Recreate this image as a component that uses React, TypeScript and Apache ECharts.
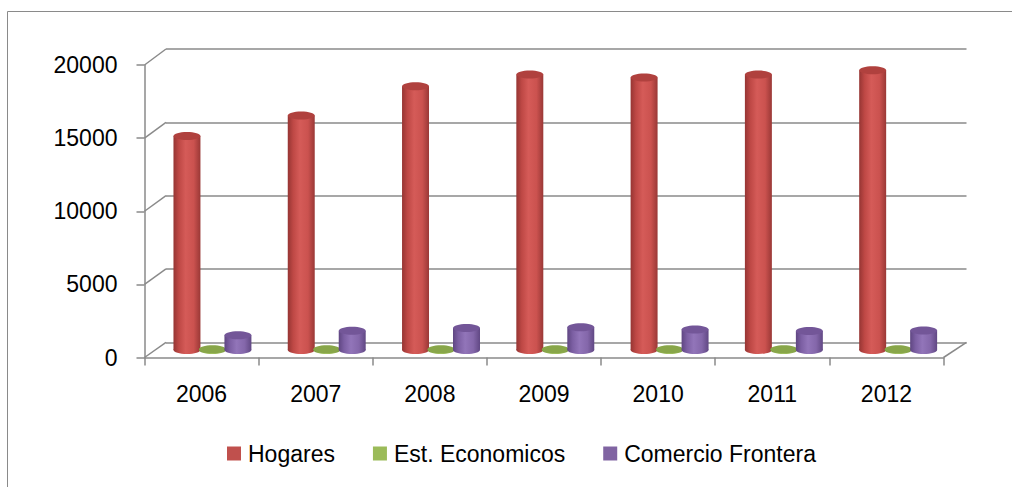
import React, { useEffect, useRef } from "react";
import * as echarts from "echarts";

const YEARS = ["2006", "2007", "2008", "2009", "2010", "2011", "2012"];
const HOGARES = [14600, 16000, 18000, 18800, 18600, 18800, 19100];
const EST_ECONOMICOS = [50, 50, 50, 50, 50, 50, 50];
const COMERCIO_FRONTERA = [1000, 1300, 1500, 1550, 1400, 1290, 1330];
const Y_TICKS = [0, 5000, 10000, 15000, 20000];

const SERIES_NAMES = ["Hogares", "Est. Economicos", "Comercio Frontera"];
const SERIES_COLORS = ["#C0504D", "#9BBB59", "#8064A2"];
const BODY_STOPS = [
  ["#963533", "#BE4845", "#D55B58", "#CB524F", "#9A3836"],
  ["#6E8A38", "#8FAF4E", "#A6C563", "#98B857", "#6F8B39"],
  ["#5F4682", "#7C5FA3", "#9275B9", "#8467AA", "#614884"],
];
const TOP_COLORS = ["#B0413E", "#88A649", "#735698"];

const FONT = "Liberation Sans";
const GRAY = "#8A8A8A";

// layout (pixels)
const BACK = { left: 166, top: 49, width: 800.5, height: 293.3 };
const FRONT = { left: 144.5, top: 65, width: 799, height: 292.5 };
const MID = { left: 155.3, top: 57, width: 800, height: 292.9 };

function makeCylinderSeries(k: number, values: number[]) {
  return {
    type: "custom",
    name: SERIES_NAMES[k],
    xAxisIndex: 2,
    yAxisIndex: 2,
    itemStyle: { color: SERIES_COLORS[k] },
    data: values.map((v, i) => [i, v]),
    encode: { x: 0, y: 1 },
    z: 5 + k,
    renderItem: (params: any, api: any) => {
      const idx = api.value(0);
      const val = api.value(1);
      const base = api.coord([idx, 0]);
      const top = api.coord([idx, val]);
      const band = api.size([1, 0])[0];
      const cx = base[0] + (k - 1) * band * 0.223;
      const w = band * 0.236;
      const rx = w / 2;
      const ry = 4;
      const stops = BODY_STOPS[k];
      const grad = {
        type: "linear",
        x: 0,
        y: 0,
        x2: 1,
        y2: 0,
        colorStops: [
          { offset: 0, color: stops[0] },
          { offset: 0.2, color: stops[1] },
          { offset: 0.45, color: stops[2] },
          { offset: 0.75, color: stops[3] },
          { offset: 1, color: stops[4] },
        ],
      };
      return {
        type: "group",
        children: [
          {
            type: "ellipse",
            shape: { cx, cy: base[1], rx, ry },
            style: { fill: grad },
          },
          {
            type: "rect",
            shape: { x: cx - rx, y: top[1], width: w, height: Math.max(0, base[1] - top[1]) },
            style: { fill: grad },
          },
          {
            type: "ellipse",
            shape: { cx, cy: top[1], rx, ry },
            style: { fill: TOP_COLORS[k] },
          },
        ],
      };
    },
  };
}

export default function App() {
  const ref = useRef<HTMLDivElement>(null);
  useEffect(() => {
    if (!ref.current) return;
    const chart = echarts.init(ref.current, null, { renderer: "svg" });
    const option: any = {
      animation: false,
      backgroundColor: "#ffffff",
      textStyle: { fontFamily: FONT },
      grid: [
        { ...BACK, containLabel: false },
        { ...FRONT, containLabel: false },
        { ...MID, containLabel: false },
      ],
      xAxis: [
        { type: "category", gridIndex: 0, data: YEARS, show: false },
        {
          type: "category",
          gridIndex: 1,
          data: YEARS,
          axisLine: { show: true, lineStyle: { color: GRAY, width: 1.5 } },
          axisTick: { show: true, length: 8, lineStyle: { color: GRAY, width: 1.5 } },
          axisLabel: { color: "#000", fontSize: 23, fontFamily: FONT, margin: 25 },
        },
        { type: "category", gridIndex: 2, data: YEARS, show: false },
      ],
      yAxis: [
        {
          type: "value",
          gridIndex: 0,
          min: 0,
          max: 20000,
          interval: 5000,
          axisLine: { show: false },
          axisTick: { show: false },
          axisLabel: { show: false },
          splitLine: { show: true, lineStyle: { color: GRAY, width: 1.5 } },
        },
        {
          type: "value",
          gridIndex: 1,
          min: 0,
          max: 20000,
          interval: 5000,
          axisLine: { show: true, lineStyle: { color: GRAY, width: 1.5 } },
          axisTick: { show: true, length: 8, lineStyle: { color: GRAY, width: 1.5 } },
          axisLabel: {
            color: "#000",
            fontSize: 23,
            fontFamily: FONT,
            margin: 27,
            formatter: (v: number) => String(v),
          },
          splitLine: { show: false },
        },
        { type: "value", gridIndex: 2, min: 0, max: 20000, interval: 5000, show: false, splitLine: { show: false } },
      ],
      legend: {
        left: 222,
        top: 437,
        icon: "rect",
        itemWidth: 14,
        itemHeight: 14,
        itemGap: 38,
        textStyle: { color: "#000", fontSize: 23, fontFamily: FONT, padding: [0, 0, 0, 2] },
        data: SERIES_NAMES,
      },
      series: [
        makeCylinderSeries(0, HOGARES),
        makeCylinderSeries(1, EST_ECONOMICOS),
        makeCylinderSeries(2, COMERCIO_FRONTERA),
      ],
    };
    chart.setOption(option);

    // 3D frame: diagonals from front axis to back wall for each tick, plus floor right edge
    const lines: any[] = [];
    Y_TICKS.forEach((v) => {
      const yf = chart.convertToPixel({ yAxisIndex: 1 } as any, v) as number;
      const yb = chart.convertToPixel({ yAxisIndex: 0 } as any, v) as number;
      lines.push({
        type: "line",
        shape: { x1: FRONT.left, y1: yf, x2: BACK.left, y2: yb },
        style: { stroke: GRAY, lineWidth: 1.5 },
        z: 1,
      });
    });
    const yf0 = chart.convertToPixel({ yAxisIndex: 1 } as any, 0) as number;
    const yb0 = chart.convertToPixel({ yAxisIndex: 0 } as any, 0) as number;
    lines.push({
      type: "line",
      shape: { x1: FRONT.left + FRONT.width, y1: yf0, x2: BACK.left + BACK.width, y2: yb0 },
      style: { stroke: GRAY, lineWidth: 1.5 },
      z: 1,
    });
    lines.push({
      type: "rect",
      shape: { x: 7.5, y: 11.5, width: 1200, height: 700 },
      style: { fill: "none", stroke: GRAY, lineWidth: 1 },
      z: 0,
    });
    chart.setOption({ graphic: lines });

    return () => chart.dispose();
  }, []);
  return (
    <div
      ref={ref}
      style={{ position: "fixed", left: 0, top: 0, width: 1012, height: 487 }}
    />
  );
}
